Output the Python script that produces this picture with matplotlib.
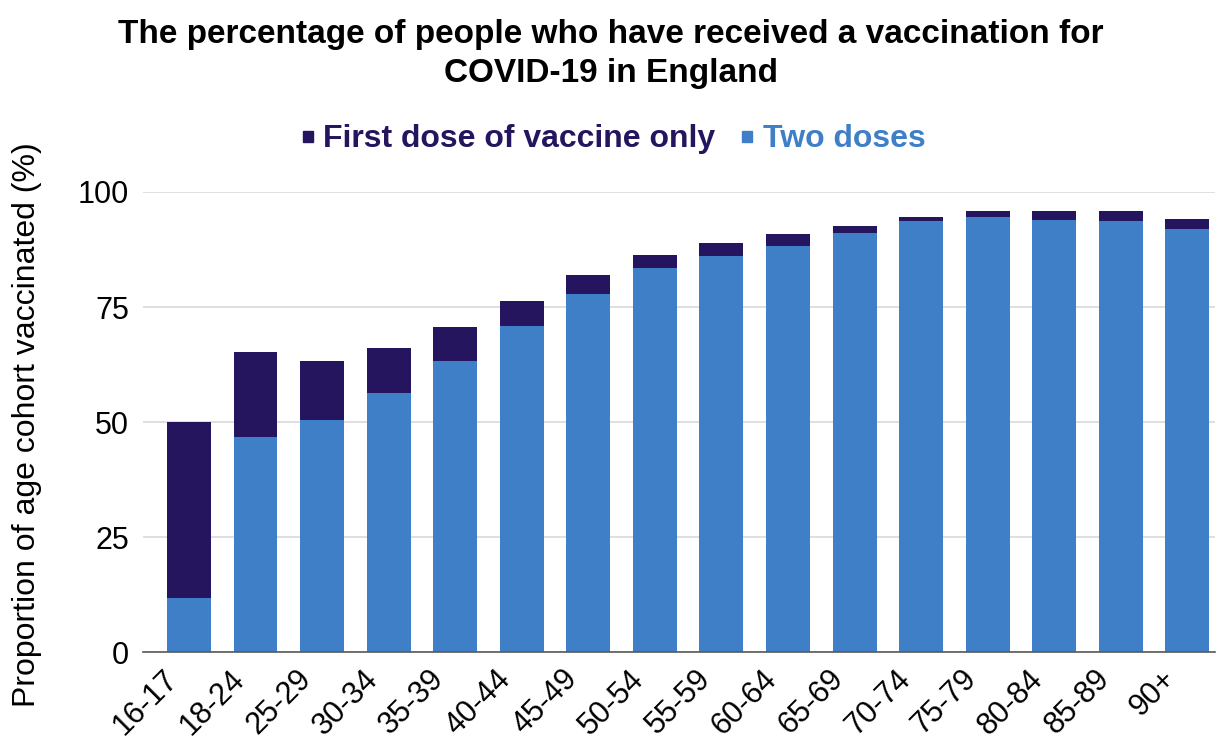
import matplotlib.pyplot as plt
import matplotlib.transforms as mtransforms
from matplotlib.patches import Rectangle
import numpy as np

plt.rcParams['font.family'] = ['Liberation Sans', 'DejaVu Sans']

age_groups = ['16-17', '18-24', '25-29', '30-34', '35-39', '40-44', '45-49', '50-54',
              '55-59', '60-64', '65-69', '70-74', '75-79', '80-84', '85-89', '90+']
# cumulative heights
two_doses = [11.7, 46.7, 50.4, 56.3, 63.2, 70.8, 77.8, 83.4,
             86.1, 88.2, 91.0, 93.6, 94.6, 94.0, 93.8, 92.0]
any_dose = [50.0, 65.3, 63.3, 66.0, 70.6, 76.2, 82.0, 86.4,
            88.9, 90.8, 92.7, 94.6, 95.8, 95.8, 95.8, 94.1]
first_only = [a - b for a, b in zip(any_dose, two_doses)]

col_two = '#3F7FC8'
col_first = '#24155E'

fig = plt.figure(figsize=(12.22, 7.47), dpi=100)
ax = fig.add_axes([0.117, 0.127, 0.877, 0.616])

x = np.arange(len(age_groups))
ax.bar(x, two_doses, width=0.66, color=col_two, zorder=2)
ax.bar(x, first_only, width=0.66, bottom=two_doses, color=col_first, zorder=2)

ax.set_xlim(-0.69, 15.41)
ax.set_ylim(0, 100)
ax.set_yticks([0, 25, 50, 75, 100])
ax.grid(axis='y', color='#D9D9D9', linewidth=1.2, zorder=0)
for s in ['top', 'right', 'left']:
    ax.spines[s].set_visible(False)
ax.spines['bottom'].set_color('#595959')
ax.spines['bottom'].set_linewidth(1.2)
ax.spines['bottom'].set_zorder(3)
ax.tick_params(axis='both', length=0, labelsize=22, pad=10)
ax.set_xticks(x)
ax.set_xticklabels(age_groups, rotation=45, ha='right', rotation_mode='anchor')
# shift rotated labels left like the original, keep them inside the figure
offset = mtransforms.ScaledTranslation(-0.26, 0.02, fig.dpi_scale_trans)
for lbl in ax.get_xticklabels():
    lbl.set_transform(lbl.get_transform() + offset)
ax.set_ylabel('Proportion of age cohort vaccinated (%)', fontsize=23)
ax.yaxis.set_label_coords(-0.094, 0.495)

# title, two lines
fig.text(0.5, 1 - 43 / 747, 'The percentage of people who have received a vaccination for',
         ha='center', va='baseline', fontsize=24, fontweight='bold')
fig.text(0.5, 1 - 82 / 747, 'COVID-19 in England',
         ha='center', va='baseline', fontsize=24, fontweight='bold')

# legend with coloured text
leg_base = 1 - 147 / 747
fig.patches.append(Rectangle((303 / 1222, 1 - 142 / 747), 10 / 1222, 11 / 747,
                             transform=fig.transFigure, color=col_first))
fig.text(323 / 1222, leg_base, 'First dose of vaccine only', color=col_first, fontsize=23,
         fontweight='bold', ha='left', va='baseline')
fig.patches.append(Rectangle((742 / 1222, 1 - 142 / 747), 10 / 1222, 11 / 747,
                             transform=fig.transFigure, color=col_two))
fig.text(763 / 1222, leg_base, 'Two doses', color=col_two, fontsize=23,
         fontweight='bold', ha='left', va='baseline')

fig.savefig('out.png', dpi=100)
